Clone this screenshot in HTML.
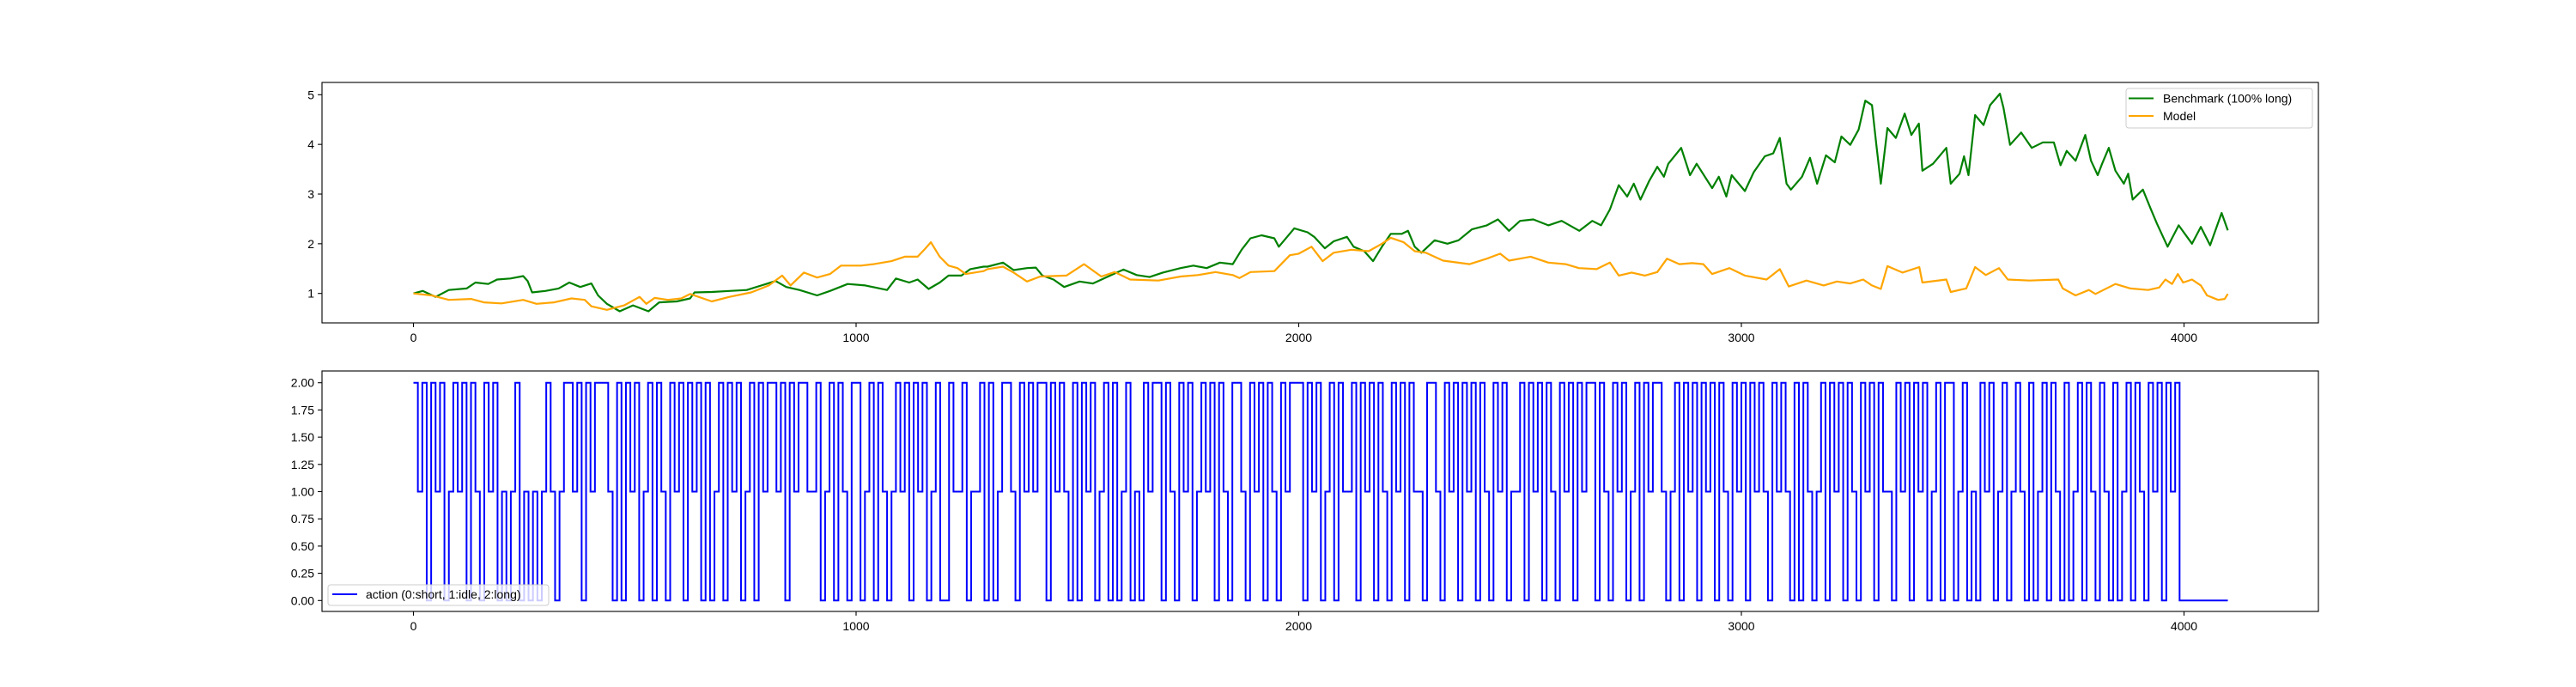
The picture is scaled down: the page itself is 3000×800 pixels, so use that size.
<!DOCTYPE html>
<html>
<head>
<meta charset="utf-8">
<style>
html,body{margin:0;padding:0;background:#fff;}
svg{display:block;font-family:"Liberation Sans","DejaVu Sans",sans-serif;}
</style>
</head>
<body>
<svg id="chart" width="3000" height="800" viewBox="0 0 3000 800" xmlns="http://www.w3.org/2000/svg">
<rect x="0" y="0" width="3000" height="800" fill="#fff"/>
<g id="top"></g>
<g id="bottom"></g>
</svg>
<script>
const benchSteps = [0,21,50,80,120,140,169,189,219,248,258,268,298,328,352,377,402,417,437,466,496,531,555,595,625,635,674,714,753,793,818,842,872,912,941,981,1021,1070,1090,1120,1139,1164,1189,1209,1238,1258,1288,
1297,1332,1356,1386,1406,1421,1446,1470,1505,1535,1574,1604,1634,1663,1693,1733,1762,1792,1822,1851,1871,1891,1916,1945,1955,1990,2020,2035,2059,2079,2109,2124,2148,2168,2188,2208,2233,2247,2262,2277,2307,2336,2361,2391,2425,2450,2475,2500,2530,2564,2594,2634,2663,2683,2703,2723,2742,2757,2772,2792,
2810,2825,2835,2864,2884,2899,2934,2949,2966,2978,3008,3028,3053,3072,3087,3102,3112,3137,3155,3171,3191,3211,3226,3246,3265,3280,3295,3305,3315,3330,3349,3369,3384,3401,3409,3433,3463,3473,3493,3503,3513,3528,3547,3562,3584,3592,3607,3632,3656,3681,3706,3721,3735,3755,3777,3790,3805,3815,3830,3845,3864,3874,3884,3907,3924,3939,3963,3988,4018,4038,4059,4085,4099];
const benchVals = [1.0,1.05,0.93,1.07,1.10,1.22,1.19,1.28,1.30,1.35,1.25,1.02,1.05,1.10,1.22,1.13,1.20,0.96,0.79,0.64,0.76,0.64,0.82,0.84,0.90,1.02,1.03,1.05,1.07,1.18,1.25,1.13,1.07,0.96,1.05,1.19,1.16,1.07,1.30,1.22,1.28,1.09,1.22,1.36,1.36,1.49,1.54,
1.54,1.62,1.47,1.51,1.52,1.36,1.28,1.13,1.24,1.20,1.36,1.48,1.37,1.33,1.42,1.51,1.56,1.51,1.62,1.59,1.88,2.11,2.17,2.11,1.94,2.31,2.23,2.14,1.91,2.05,2.14,1.94,1.85,1.65,1.94,2.20,2.20,2.26,1.94,1.82,2.07,2.00,2.07,2.29,2.37,2.49,2.26,2.46,2.49,2.37,2.46,2.26,2.46,2.37,2.69,3.18,2.95,3.21,2.89,3.27,
3.55,3.35,3.61,3.93,3.38,3.61,3.12,3.35,2.95,3.38,3.06,3.44,3.76,3.82,4.13,3.21,3.09,3.35,3.73,3.21,3.78,3.64,4.16,3.99,4.30,4.88,4.79,3.99,3.21,4.33,4.13,4.62,4.19,4.42,3.47,3.61,3.93,3.21,3.41,3.76,3.38,4.59,4.39,4.79,5.02,4.74,3.99,4.24,3.93,4.04,4.04,3.58,3.87,3.67,4.19,3.67,3.38,3.61,3.93,3.47,3.21,3.41,2.89,3.09,2.72,2.40,1.94,2.37,2.00,2.34,1.97,2.62,2.27];
const modelSteps = [0,41,80,130,159,199,248,278,318,357,387,402,437,476,511,526,545,575,605,625,674,714,763,803,833,852,882,912,941,966,1011,1040,1080,1110,1139,1154,1169,1189,1209,1229,1248,1288,
1297,1332,1356,1386,1416,1475,1515,1554,1584,1619,1683,1733,1772,1812,1851,1866,1891,1945,1980,2000,2029,2054,2079,2119,2158,2188,2208,2237,2262,2287,2326,2386,2425,2455,2475,2524,2564,2603,2633,2673,2703,2723,2752,2782,
2810,2832,2860,2889,2914,2934,2973,3008,3057,3087,3107,3147,3186,3216,3246,3275,3295,3315,3330,3364,3402,3409,3463,3473,3508,3528,3552,3582,3602,3651,3716,3726,3755,3785,3800,3845,3879,3919,3944,3958,3973,3986,3998,4018,4038,4052,4077,4092,4099];
const modelVals = [1.0,0.96,0.87,0.89,0.82,0.80,0.87,0.79,0.82,0.90,0.87,0.74,0.67,0.76,0.93,0.79,0.91,0.87,0.90,0.99,0.84,0.93,1.02,1.16,1.36,1.16,1.42,1.32,1.39,1.56,1.56,1.59,1.65,1.74,1.74,1.88,2.03,1.74,1.56,1.51,1.39,1.45,
1.49,1.54,1.42,1.24,1.34,1.36,1.59,1.34,1.43,1.28,1.26,1.34,1.37,1.43,1.37,1.31,1.43,1.45,1.77,1.80,1.94,1.65,1.82,1.88,1.85,2.00,2.12,2.03,1.85,1.82,1.66,1.59,1.70,1.80,1.66,1.74,1.62,1.59,1.51,1.49,1.62,1.36,1.42,1.36,
1.43,1.70,1.59,1.61,1.59,1.39,1.51,1.36,1.28,1.49,1.14,1.26,1.16,1.24,1.20,1.28,1.16,1.09,1.55,1.42,1.53,1.22,1.28,1.03,1.10,1.53,1.37,1.51,1.28,1.26,1.28,1.10,0.96,1.07,0.99,1.19,1.10,1.07,1.12,1.28,1.19,1.39,1.22,1.28,1.16,0.96,0.87,0.89,0.99];
// action value per 10-step block (0:short, 1:idle, 2:long)
const actionVals = [
2,1,2,0,2,1,2,0,1,2, 1,2,0,2,1,0,2,1,2,0, 1,0,1,2,0,1,0,1,0,1, 2,1,0,1,2,2,1,2,0,2,
1,2,2,2,1,0,2,0,2,1, 2,0,1,2,0,2,1,0,2,1, 2,0,2,1,2,0,2,0,1,2, 0,2,1,2,0,1,2,0,2,1,
2,2,1,2,0,2,1,2,2,1, 1,2,0,1,2,0,2,1,0,2, 2,0,1,2,0,2,1,0,1,2, 1,2,0,2,1,2,0,1,2,0,
0,2,1,1,2,0,1,1,2,0, 2,0,1,2,2,1,0,2,1,2, 1,2,2,0,2,1,2,1,0,2, 0,2,1,2,0,1,2,0,2,0,
1,2,0,1,0,2,1,2,2,0, 2,1,0,2,1,2,0,1,2,1, 2,0,2,1,0,2,2,1,0,2, 1,2,0,2,1,0,2,1,2,2,
2,0,2,1,2,0,1,2,0,2, 1,1,2,0,2,1,2,0,2,1, 0,2,1,2,0,2,1,1,0,2, 2,1,0,2,1,2,0,2,1,2,
0,2,1,0,2,1,2,0,1,1, 2,0,2,1,2,0,2,1,0,2, 1,2,0,2,1,2,2,0,2,1, 0,2,1,2,0,1,2,0,2,1,
2,2,1,0,1,2,0,2,1,2, 0,2,1,2,0,2,1,0,2,1, 2,0,2,1,2,1,0,2,1,2, 1,0,2,0,2,1,0,1,2,0,
2,1,2,0,2,1,0,2,1,2, 0,2,1,1,0,2,1,2,0,2, 1,2,0,1,2,0,2,2,0,1, 2,0,1,0,2,1,2,0,1,2,
0,1,2,1,0,2,0,1,2,0, 2,1,0,2,0,1,2,0,2,1, 0,2,1,0,2,0,1,2,0,2, 1,0,2,1,2,0,2,1,2,0,
0];
const topYTicks = [1,2,3,4,5];
const xTicks = [0,1000,2000,3000,4000];
const botYTicks = [0,0.25,0.5,0.75,1.0,1.25,1.5,1.75,2.0];
const botYLabels = ["0.00","0.25","0.50","0.75","1.00","1.25","1.50","1.75","2.00"];

const NS = "http://www.w3.org/2000/svg";
const L = 375, R = 2700;
const STEP = 10;
const xs = s => 481.5 + s * 0.5155;
const yTop = v => 341.7 - (v - 1) * 57.85;
const yBot = v => 699.3 - v * 126.8;
function mk(tag, attrs, parent, text){
  const e = document.createElementNS(NS, tag);
  for (const k in attrs) e.setAttribute(k, attrs[k]);
  if (text !== undefined) e.textContent = text;
  parent.appendChild(e);
  return e;
}
function panel(g, top, bottom, yTicks, yLabels, yf, prefix){
  for (let i=0;i<xTicks.length;i++){
    const t = xTicks[i];
    const tk = mk('line',{x1:xs(t),x2:xs(t),y1:bottom,y2:bottom+4.9,stroke:'#000','stroke-width':1.1},g);
    
    
    const lb = mk('text',{x:xs(t),y:bottom+22,'font-size':14,'text-anchor':'middle',fill:'#000'},g,String(t));
    
    
  }
  for (let i=0;i<yTicks.length;i++){
    const y = yf(yTicks[i]);
    const tk = mk('line',{x1:L-4.9,x2:L,y1:y,y2:y,stroke:'#000','stroke-width':1.1},g);
    
    
    const lb = mk('text',{x:L-9,y:y+5,'font-size':14,'text-anchor':'end',fill:'#000'},g,yLabels[i]);
    
    
  }
}
function clip(id, top, bottom){
  const svg = document.getElementById('chart');
  let defs = svg.querySelector('defs');
  if (!defs) defs = mk('defs',{},svg);
  const cp = mk('clipPath',{id:id},defs);
  mk('rect',{x:L,y:top,width:R-L,height:bottom-top},cp);
}
// top panel
const gt = document.getElementById('top');
clip('ct', 96, 376);
panel(gt, 96, 376, topYTicks, topYTicks.map(String), yTop, 'top');
const pb = benchSteps.map((s,i)=>xs(s).toFixed(1)+','+yTop(benchVals[i]).toFixed(1)).join(' ');
const bl = mk('polyline',{points:pb,fill:'none',stroke:'#008000','stroke-width':2.2,'stroke-linejoin':'round','clip-path':'url(#ct)'},gt);


const pm = modelSteps.map((s,i)=>xs(s).toFixed(1)+','+yTop(modelVals[i]).toFixed(1)).join(' ');
const ml = mk('polyline',{points:pm,fill:'none',stroke:'#ffa500','stroke-width':2.2,'stroke-linejoin':'round','clip-path':'url(#ct)'},gt);


const f1 = mk('rect',{x:L,y:96,width:R-L,height:280,fill:'none',stroke:'#000','stroke-width':1.1},gt);


const lg = mk('g',{},gt);


mk('rect',{x:2476,y:103,width:217,height:46,rx:3,fill:'#fff','fill-opacity':0.8,stroke:'#ccc','stroke-width':1},lg);
mk('line',{x1:2479,x2:2508,y1:114.5,y2:114.5,stroke:'#008000','stroke-width':2},lg);
const t1 = mk('text',{x:2519,y:119.5,'font-size':14,fill:'#000'},lg,'Benchmark (100% long)');


mk('line',{x1:2479,x2:2508,y1:135,y2:135,stroke:'#ffa500','stroke-width':2},lg);
const t2 = mk('text',{x:2519,y:140,'font-size':14,fill:'#000'},lg,'Model');



// bottom panel
const gb = document.getElementById('bottom');
clip('cb', 432, 712);
panel(gb, 432, 712, botYTicks, botYLabels, yBot, 'bottom');
const nBlocks = actionVals.length;
let d = 'M'+xs(0).toFixed(2)+','+yBot(actionVals[0]).toFixed(1);
for (let i=1;i<nBlocks;i++){
  const x = xs(Math.min(i*STEP, 4099)).toFixed(2);
  d += ' L'+x+','+yBot(actionVals[i-1]).toFixed(1)+' L'+x+','+yBot(actionVals[i]).toFixed(1);
}
d += ' L'+xs(4099).toFixed(2)+','+yBot(actionVals[nBlocks-1]).toFixed(1);
const al = mk('path',{d:d,fill:'none',stroke:'#0000ff','stroke-width':2,'clip-path':'url(#cb)'},gb);


const f2 = mk('rect',{x:L,y:432,width:R-L,height:280,fill:'none',stroke:'#000','stroke-width':1.1},gb);


const lg2 = mk('g',{},gb);


mk('rect',{x:382,y:681,width:257,height:24,rx:3,fill:'#fff','fill-opacity':0.8,stroke:'#ccc','stroke-width':1},lg2);
mk('line',{x1:387,x2:416,y1:692,y2:692,stroke:'#0000ff','stroke-width':2},lg2);
const t3 = mk('text',{x:426,y:697,'font-size':14,fill:'#000'},lg2,'action (0:short, 1:idle, 2:long)');


</script>
</body>
</html>
